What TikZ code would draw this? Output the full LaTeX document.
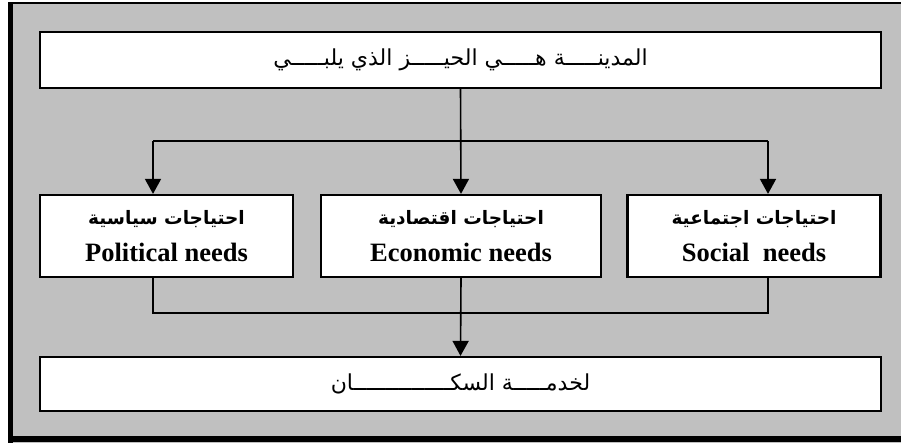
\documentclass[tikz,border=0pt]{standalone}
\usepackage{fontspec}
\usepackage{tikz}
\usetikzlibrary{arrows.meta,positioning,calc}
\usepackage{xcolor}
\TeXXeTstate=1
\newfontfamily\arabicfont[Script=Arabic]{DejaVu Sans}
\newfontfamily\enfont{Liberation Serif}
\definecolor{panelgrey}{RGB}{192,192,192}
\newcommand{\ar}[1]{{\arabicfont\beginR #1\endR}}
\tikzset{
  wide/.style={draw=black,fill=white,line width=2.2pt,inner sep=0pt,
               minimum width=841pt,font=\fontsize{22}{26}\selectfont},
  need/.style={draw=black,fill=white,line width=2.2pt,inner sep=0pt,
               minimum height=82pt,align=center,
               font=\fontsize{18.5}{37}\selectfont\bfseries},
  link/.style={draw=black,line width=1.6pt},
  flow/.style={link,-{Triangle[length=15pt,width=16pt]}},
}
\newcommand{\eng}[1]{{\enfont\fontsize{26.5}{30}\selectfont #1}}

\begin{document}
\begin{tikzpicture}[x=1pt,y=-1pt]
  \useasboundingbox (0,0) rectangle (901,444);
  % panel with shadow frame
  \fill[panelgrey] (8,2) rectangle (901,443);
  \fill[black] (8,2) rectangle (901,4.5);
  \fill[black] (8,2) rectangle (13,443);
  \fill[black] (8,436) rectangle (901,442);
  % boxes
  \node[wide,minimum height=56pt] (city) at (460.5,60)
    {\ar{المدينـــــة هـــــي الحيـــــز الذي يلبـــــي}};
  \node[need,minimum width=253pt] (polit) at (166.5,236)
    {\ar{احتياجات سياسية}\\\eng{Political needs}};
  \node[need,minimum width=280pt] (econ) at (461,236)
    {\ar{احتياجات اقتصادية}\\\eng{Economic needs}};
  \node[need,minimum width=253pt] (social) at (754,236)
    {\ar{احتياجات اجتماعية}\\\eng{Social\ \ needs}};
  \node[wide,minimum height=54pt] (serve) at (460.5,384)
    {\ar{لخدمـــــة السكـــــــــــــــان}};
  % branch points
  \coordinate (pa) at (153,141);
  \coordinate (sa) at (768,141);
  \coordinate (pb) at (153,313);
  \coordinate (sb) at (768,313);
  % connectors
  \draw[link] (pa) -- (sa);
  \draw[flow] (city.south) -- (econ.north);
  \draw[flow] (pa) -- (pa |- polit.north);
  \draw[flow] (sa) -- (sa |- social.north);
  \draw[link] (pb |- polit.south) -- (pb) -- (sb) -- (sb |- social.south);
  \draw[flow] (econ.south) -- (serve.north);
\end{tikzpicture}
\end{document}
